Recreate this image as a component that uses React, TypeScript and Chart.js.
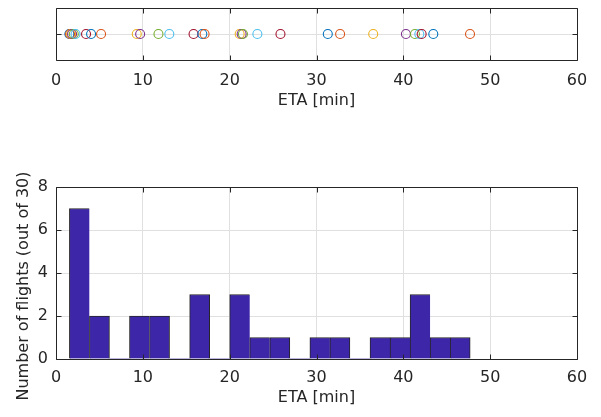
import React, { useEffect, useRef } from 'react';
import { Chart, registerables } from 'chart.js';

Chart.register(...registerables);

// ETA of each flight, sorted (minutes)
const etaMinutes = [
  1.54, 1.62, 1.75, 1.85, 2.05, 2.25, 3.46, 4.04, 5.19, 9.3,
  9.69, 11.8, 13.05, 15.84, 16.85, 17.11, 21.15, 21.38, 21.53, 23.19,
  25.85, 31.3, 32.72, 36.53, 40.3, 41.34, 41.84, 42.11, 43.45, 47.68,
];

// Histogram bin edges (minutes) and counts per bin
const binEdges = [
  1.54, 3.85, 6.16, 8.46, 10.77, 13.08, 15.39, 17.7, 20.0, 22.31, 24.62,
  26.93, 29.24, 31.54, 33.85, 36.16, 38.47, 40.78, 43.08, 45.39, 47.7,
];
const flightCounts = [7, 2, 0, 2, 2, 0, 3, 0, 3, 1, 1, 0, 1, 1, 0, 1, 1, 3, 1, 1];

const xTickValues = [0, 10, 20, 30, 40, 50, 60];
const yTickValues = [0, 2, 4, 6, 8];

const markerPalette = ['#0072BD', '#D95319', '#EDB120', '#7E2F8E', '#77AC30', '#4DBEEE', '#A2142F'];

const AXIS_COLOR = '#262626';
const GRID_COLOR = '#e0e0e0';
const BAR_COLOR = '#3E26A8';
const FONT_FAMILY = 'DejaVu Sans';
const FONT_SIZE = 16;

const matlabBox = {
  id: 'matlabBox',
  afterDraw(chart: any, _args: any, opts: any) {
    const { ctx, chartArea: a, scales } = chart;
    const tl = 5;
    ctx.save();
    ctx.strokeStyle = AXIS_COLOR;
    ctx.lineWidth = 1;
    ctx.beginPath();
    const L = Math.round(a.left) + 0.5;
    const R = Math.round(a.right) + 0.5;
    const T = Math.round(a.top) + 0.5;
    const B = Math.round(a.bottom) + 0.5;
    ctx.rect(L, T, R - L, B - T);
    const xs = scales.x;
    xs.ticks.forEach((t: any) => {
      const px = Math.round(xs.getPixelForValue(t.value)) + 0.5;
      ctx.moveTo(px, B);
      ctx.lineTo(px, B - tl);
      ctx.moveTo(px, T);
      ctx.lineTo(px, T + tl);
    });
    const ys = scales.y;
    ys.ticks.forEach((t: any) => {
      const py = Math.round(ys.getPixelForValue(t.value)) + 0.5;
      ctx.moveTo(L, py);
      ctx.lineTo(L + tl, py);
      ctx.moveTo(R, py);
      ctx.lineTo(R - tl, py);
    });
    ctx.stroke();
    if (opts && opts.yTitle) {
      ctx.fillStyle = AXIS_COLOR;
      ctx.font = `${FONT_SIZE}px "${FONT_FAMILY}"`;
      ctx.textAlign = 'center';
      ctx.textBaseline = 'middle';
      ctx.translate(opts.yTitleX, opts.yTitleY);
      ctx.rotate(-Math.PI / 2);
      ctx.fillText(opts.yTitle, 0, 0);
    }
    ctx.restore();
  },
};

const fixedTicks = (values: number[]) => (scale: any) => {
  scale.ticks = values.map((v) => ({ value: v }));
};

function StripChart() {
  const ref = useRef<HTMLCanvasElement>(null);
  useEffect(() => {
    const chart = new Chart(ref.current as HTMLCanvasElement, {
      type: 'scatter',
      data: {
        datasets: [
          {
            data: etaMinutes.map((v) => ({ x: v, y: 0 })),
            pointRadius: 4.5,
            pointBorderWidth: 1.1,
            pointBackgroundColor: 'rgba(0,0,0,0)',
            pointBorderColor: etaMinutes.map((_, i) => markerPalette[i % markerPalette.length]),
            showLine: false,
          },
        ],
      },
      options: {
        animation: false,
        responsive: false,
        events: [],
        layout: { padding: { top: 8, right: 24, bottom: 0, left: 0 } },
        plugins: { legend: { display: false }, tooltip: { enabled: false }, matlabBox: {} } as any,
        scales: {
          x: {
            type: 'linear',
            min: 0,
            max: 60,
            afterBuildTicks: fixedTicks(xTickValues),
            afterFit: (s: any) => { s.height = 52; },
            grid: { color: GRID_COLOR, drawTicks: false },
            border: { display: false },
            ticks: { color: AXIS_COLOR, padding: 11, font: { family: FONT_FAMILY, size: FONT_SIZE }, maxRotation: 0 },
            title: { display: true, text: 'ETA [min]', color: AXIS_COLOR, font: { family: FONT_FAMILY, size: FONT_SIZE }, padding: { top: 0, bottom: 2 } },
          },
          y: {
            type: 'linear',
            min: -1,
            max: 1,
            afterBuildTicks: fixedTicks([0]),
            afterFit: (s: any) => { s.width = 56; },
            grid: { color: GRID_COLOR, drawTicks: false },
            border: { display: false },
            ticks: { display: false },
          },
        },
      },
      plugins: [matlabBox],
    } as any);
    return () => chart.destroy();
  }, []);
  return <canvas ref={ref} width={601} height={112} style={{ position: 'absolute', left: 0, top: 0 }} />;
}

function HistChart() {
  const ref = useRef<HTMLCanvasElement>(null);
  useEffect(() => {
    const centers = flightCounts.map((_, i) => (binEdges[i] + binEdges[i + 1]) / 2);
    const chart = new Chart(ref.current as HTMLCanvasElement, {
      type: 'bar',
      data: {
        datasets: [
          {
            data: centers.map((c, i) => ({ x: c, y: flightCounts[i] })),
            backgroundColor: BAR_COLOR,
            borderColor: AXIS_COLOR,
            borderWidth: (ctx: any) => {
              const i = ctx.dataIndex;
              if (!flightCounts[i]) return 0;
              const lastInRun = i === flightCounts.length - 1 || !flightCounts[i + 1];
              return { left: 1, top: 1, right: lastInRun ? 1 : 0, bottom: 0 };
            },
            borderSkipped: false,
            barPercentage: 1,
            categoryPercentage: 1,
          },
        ],
      },
      options: {
        animation: false,
        responsive: false,
        events: [],
        layout: { padding: { top: 67, right: 24, bottom: 0, left: 0 } },
        plugins: {
          legend: { display: false },
          tooltip: { enabled: false },
          matlabBox: { yTitle: 'Number of flights (out of 30)', yTitleX: 24, yTitleY: 166 },
        } as any,
        scales: {
          x: {
            type: 'linear',
            min: 0,
            max: 60,
            offset: false,
            afterBuildTicks: fixedTicks(xTickValues),
            afterFit: (s: any) => { s.height = 58; },
            grid: { color: GRID_COLOR, drawTicks: false, offset: false },
            border: { display: false },
            ticks: { color: AXIS_COLOR, padding: 9, font: { family: FONT_FAMILY, size: FONT_SIZE }, maxRotation: 0 },
            title: { display: true, text: 'ETA [min]', color: AXIS_COLOR, font: { family: FONT_FAMILY, size: FONT_SIZE }, padding: { top: 0, bottom: 10 } },
          },
          y: {
            type: 'linear',
            min: 0,
            max: 8,
            afterBuildTicks: fixedTicks(yTickValues),
            afterFit: (s: any) => { s.width = 56; },
            grid: { color: GRID_COLOR, drawTicks: false },
            border: { display: false },
            ticks: { color: AXIS_COLOR, padding: 8, font: { family: FONT_FAMILY, size: FONT_SIZE } },
          },
        },
      },
      plugins: [matlabBox],
    } as any);
    return () => chart.destroy();
  }, []);
  return <canvas ref={ref} width={601} height={297} style={{ position: 'absolute', left: 0, top: 120 }} />;
}

export default function App() {
  return (
    <div style={{ position: 'fixed', left: 0, top: 0, width: 601, height: 417, background: '#ffffff' }}>
      <StripChart />
      <HistChart />
    </div>
  );
}
